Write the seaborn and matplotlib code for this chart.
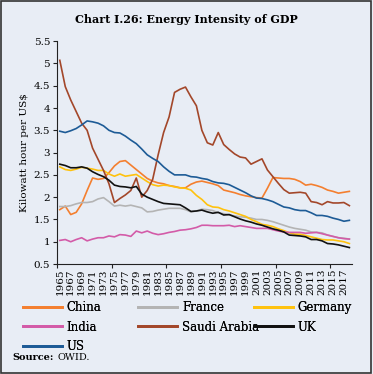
import pandas as pd
import matplotlib.pyplot as plt
import seaborn as sns
from matplotlib.lines import Line2D
from matplotlib.patches import Rectangle

years = list(range(1965, 2019))

china = [1.72, 1.80, 1.61, 1.66, 1.85, 2.15, 2.43, 2.40, 2.42, 2.55,
         2.70, 2.80, 2.82, 2.72, 2.62, 2.52, 2.42, 2.36, 2.32, 2.30,
         2.26, 2.24, 2.21, 2.21, 2.29, 2.34, 2.36, 2.33, 2.30, 2.26,
         2.16, 2.13, 2.10, 2.06, 2.03, 2.01, 1.99, 1.98, 2.20, 2.44,
         2.43, 2.42, 2.42, 2.40, 2.35, 2.27, 2.29, 2.26, 2.22, 2.16,
         2.13, 2.09, 2.11, 2.13]
france = [1.79, 1.79, 1.81, 1.85, 1.88, 1.88, 1.90, 1.96, 1.99, 1.90,
          1.80, 1.82, 1.80, 1.82, 1.79, 1.76, 1.67, 1.68, 1.71, 1.73,
          1.75, 1.75, 1.75, 1.72, 1.67, 1.69, 1.73, 1.72, 1.70, 1.65,
          1.63, 1.60, 1.58, 1.56, 1.55, 1.53, 1.50, 1.50, 1.48, 1.45,
          1.41, 1.37, 1.33, 1.30, 1.28, 1.26, 1.22, 1.21, 1.20, 1.15,
          1.12, 1.09, 1.08, 1.06]
germany = [2.68, 2.62, 2.60, 2.63, 2.67, 2.65, 2.63, 2.60, 2.60, 2.52,
           2.47, 2.52, 2.47, 2.49, 2.51, 2.43, 2.35, 2.28, 2.25, 2.27,
           2.26, 2.23, 2.21, 2.20, 2.16, 2.04, 1.95, 1.83, 1.78, 1.77,
           1.72, 1.69, 1.65, 1.61, 1.57, 1.50, 1.45, 1.39, 1.37, 1.34,
           1.29, 1.25, 1.20, 1.17, 1.17, 1.14, 1.11, 1.08, 1.05, 1.04,
           1.04, 1.02, 1.00, 0.96]
india = [1.03, 1.05, 1.00, 1.05, 1.09, 1.02, 1.06, 1.09, 1.09, 1.13,
         1.11, 1.16, 1.15, 1.12, 1.24, 1.20, 1.24, 1.19, 1.16, 1.18,
         1.21, 1.23, 1.26, 1.27, 1.29, 1.32, 1.37, 1.37, 1.36, 1.36,
         1.36, 1.37, 1.34, 1.36, 1.34, 1.32, 1.30, 1.30, 1.30, 1.27,
         1.24, 1.22, 1.21, 1.21, 1.21, 1.19, 1.20, 1.21, 1.18, 1.15,
         1.12, 1.09, 1.07, 1.06]
saudi = [5.07, 4.48, 4.18, 3.92, 3.66, 3.50, 3.10, 2.85, 2.60, 2.30,
         1.88, 1.97, 2.05, 2.15, 2.43, 2.00, 2.15, 2.40, 2.95, 3.45,
         3.80, 4.35, 4.42, 4.47, 4.25, 4.05, 3.50, 3.22, 3.17, 3.45,
         3.18, 3.07, 2.97, 2.90, 2.88, 2.74, 2.80, 2.86, 2.61, 2.46,
         2.31, 2.17, 2.09, 2.10, 2.11, 2.09, 1.90, 1.88, 1.83, 1.90,
         1.87, 1.87, 1.88, 1.81]
uk = [2.74, 2.71, 2.66, 2.66, 2.68, 2.65, 2.57, 2.51, 2.46, 2.38,
      2.27, 2.24, 2.23, 2.21, 2.24, 2.07, 2.00, 1.95, 1.90, 1.86,
      1.85, 1.84, 1.83, 1.76, 1.68, 1.69, 1.71, 1.67, 1.64, 1.66,
      1.60, 1.61, 1.56, 1.51, 1.47, 1.44, 1.40, 1.37, 1.33, 1.29,
      1.26, 1.22, 1.15, 1.14, 1.13, 1.11, 1.05, 1.05, 1.02, 0.96,
      0.95, 0.93, 0.90, 0.87]
us = [3.48, 3.45, 3.49, 3.54, 3.62, 3.71, 3.69, 3.66, 3.60, 3.50,
      3.45, 3.44, 3.37, 3.28, 3.20, 3.08, 2.95, 2.87, 2.80, 2.68,
      2.58, 2.50, 2.50, 2.50, 2.46, 2.45, 2.42, 2.40, 2.35, 2.32,
      2.31, 2.28, 2.22, 2.16, 2.10, 2.03, 1.98, 1.97, 1.94, 1.90,
      1.84, 1.78, 1.76, 1.72, 1.70, 1.70, 1.65, 1.59, 1.59, 1.57,
      1.53, 1.50, 1.46, 1.48]

series = {'China': china, 'France': france, 'Germany': germany, 'India': india,
          'Saudi Arabia': saudi, 'UK': uk, 'US': us}
colors = {'China': '#F47F2F', 'France': '#B4B4B4', 'Germany': '#FFC20E',
          'India': '#D35BA8', 'Saudi Arabia': '#A3472A', 'UK': '#111111',
          'US': '#1D5B96'}

df = pd.concat([pd.DataFrame({'year': years, 'value': v, 'country': k})
                for k, v in series.items()])

bg = '#E8EDF5'
plt.rcParams['font.family'] = ['DejaVu Serif']

fig = plt.figure(figsize=(3.73, 3.74), dpi=100, facecolor=bg)
ax = fig.add_axes([0.153, 0.294, 0.791, 0.596])
ax.set_facecolor(bg)

sns.lineplot(data=df, x='year', y='value', hue='country', palette=colors,
             hue_order=list(series.keys()), linewidth=1.2, legend=False, ax=ax)

ax.set_xlim(1964.5, 2018.5)
ax.set_ylim(0.5, 5.5)
yt = [0.5 + 0.5 * i for i in range(11)]
ax.set_yticks(yt)
ax.set_yticklabels([f'{t:g}' for t in yt], fontsize=7.5)
ax.set_xticks(list(range(1965, 2018, 2)))
ax.set_xticklabels([str(y) for y in range(1965, 2018, 2)], rotation=90, fontsize=7.5)
ax.set_xticks([1964.5 + 10 * k for k in range(6)], minor=True)
ax.tick_params(axis='x', which='major', length=0, pad=3)
ax.tick_params(axis='x', which='minor', length=3, width=0.8, color='#222222')
ax.tick_params(axis='y', length=3, width=0.8, color='#222222', pad=2)
ax.set_xlabel('')
ax.set_ylabel('Kilowatt hour per US$', fontsize=7.5, labelpad=3)
for s in ['top', 'right']:
    ax.spines[s].set_visible(False)
for s in ['left', 'bottom']:
    ax.spines[s].set_color('#222222')
    ax.spines[s].set_linewidth(0.8)

# legend in three equal-width columns, filled row by row
legend_cols = [['China', 'India', 'US'], ['France', 'Saudi Arabia'], ['Germany', 'UK']]
col_x = [0.062, 0.371, 0.680]
for names, x0 in zip(legend_cols, col_x):
    handles = [Line2D([0], [0], color=colors[k], lw=2) for k in names]
    leg = fig.legend(handles, names, loc='upper left', bbox_to_anchor=(x0, 0.194),
                     frameon=False, fontsize=8.5, handlelength=3.3, handletextpad=0.4,
                     labelspacing=0.52, borderaxespad=0, borderpad=0)
    fig.add_artist(leg)

fig.text(0.5, 0.948, 'Chart I.26: Energy Intensity of GDP', ha='center', va='center',
         fontsize=8, fontweight='bold')
t1 = fig.text(0.032, 0.043, 'Source:', fontsize=7, fontweight='bold', va='center')
fig.canvas.draw()
bb = t1.get_window_extent().transformed(fig.transFigure.inverted())
fig.text(bb.x1 + 0.01, 0.043, 'OWID.', fontsize=7, va='center')

fig.patches.append(Rectangle((0.004, 0.004), 0.99, 0.992, transform=fig.transFigure,
                             fill=False, lw=1.2, ec='#333333'))

fig.savefig('out.png', dpi=100, facecolor=bg)
